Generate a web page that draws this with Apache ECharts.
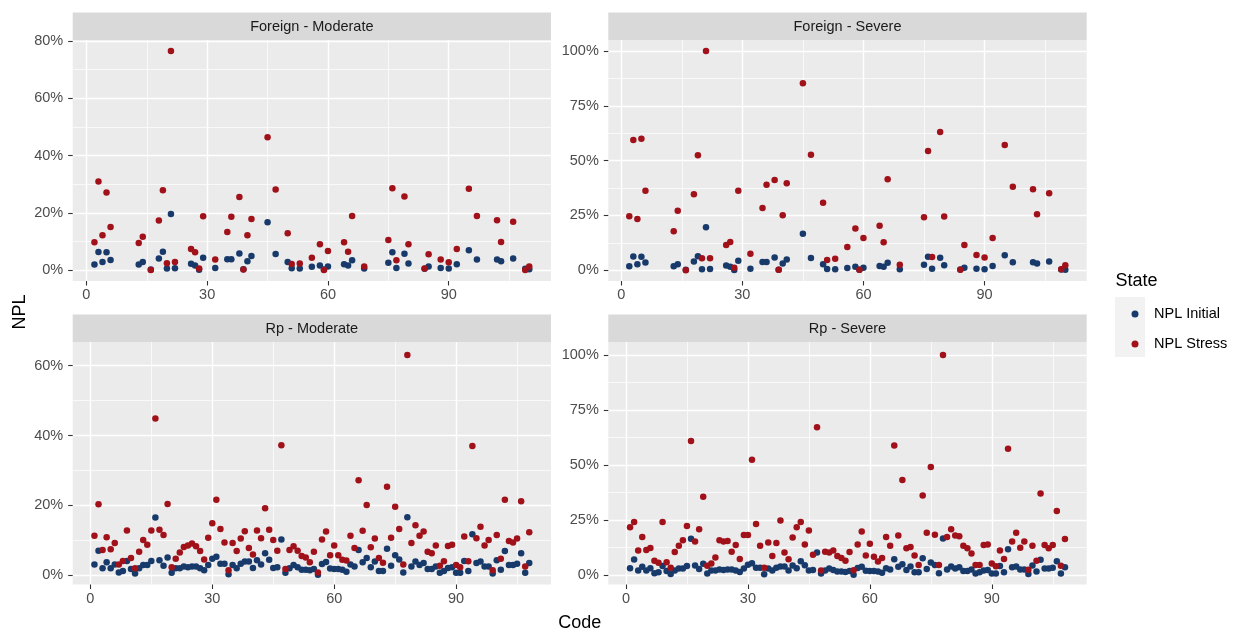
<!DOCTYPE html>
<html><head><meta charset="utf-8">
<script src="https://cdn.jsdelivr.net/npm/echarts@6/dist/echarts.min.js"></script>
<style>html,body{margin:0;padding:0;background:#fff}#c{width:1246px;height:632px}</style>
</head><body><div id="c"></div>
<script>
// ---------- DATA ----------
const foreignCodes = [2,3,4,5,6,13,14,16,18,19,20,21,22,26,27,28,29,32,35,36,38,39,40,41,45,47,50,51,53,56,58,59,60,64,65,66,69,75,76,77,79,80,84,85,88,90,92,95,97,102,103,106,109,110];
const foreignInitial = [1.9,6.3,2.8,6.2,3.5, 1.9,2.8,0.2,4.0,6.4,0.5,19.6,0.6, 2.2,1.6,0.1,4.3,0.7,3.8,3.8,5.8,0.3,3.1,4.9,16.7,5.6, 2.8,0.6,0.5,1.1,1.6,0.2,1.2, 2.0,1.6,3.4,0.5,2.5,6.2,0.7,5.7,2.3, 0.4,1.2,0.7,0.5,2.0,6.9,3.7, 3.7,3.1,4.0,0.4,0.3];
const foreignModerateStress = [9.7,30.9,12.1,27.1,15.0, 9.4,11.6,0.0,17.3,27.9,2.4,76.5,2.8, 7.3,6.2,0.5,18.8,3.7,13.3,18.6,25.5,0.2,12.1,17.8,46.4,28.1, 12.8,2.1,2.3,4.3,9.0,0.0,6.6, 9.7,6.4,18.9,1.2,10.5,28.6,3.4,25.7,9.0, 0.5,5.5,3.7,2.7,7.3,28.4,18.9, 17.4,9.8,16.9,0.0,1.2];
const foreignSevereStress = [24.6,59.4,23.4,60.0,36.3, 17.8,27.2,0.0,34.7,52.4,5.5,100.0,5.5, 11.5,12.9,1.2,36.3,7.6,28.4,39.0,41.2,0.2,25.1,39.7,85.3,52.7, 30.8,4.7,5.3,10.6,19.0,0.2,14.7, 20.3,12.8,41.5,2.5,24.2,54.4,6.1,63.1,24.5, 0.2,11.5,7.0,5.8,14.7,57.1,38.1, 36.9,25.5,35.1,0.5,2.3];

const rpCodes = [1,2,3,4,5,6,7,8,9,10,11,12,13,14,15,16,17,18,19,20,21,22,23,24,25,26,27,28,29,30,31,32,33,34,35,36,37,38,39,40,41,42,43,44,45,46,47,48,49,50,51,52,53,54,55,56,57,58,59,60,61,62,63,64,65,66,67,68,69,70,71,72,73,74,75,76,77,78,79,80,81,82,83,84,85,86,87,88,89,90,91,92,93,94,95,96,97,98,99,100,101,102,103,104,105,106,107,108];
const rpInitial = [3.1,7.0,2.0,3.7,2.0,3.1,0.8,1.2,4.1,1.8,
  0.5,2.0,2.9,2.9,4.1,16.5,4.3,2.7,5.1,0.7,
  2.0,2.0,2.5,2.3,2.5,2.5,2.0,1.4,2.9,4.7,
  5.3,3.3,3.3,0.3,2.9,2.0,3.3,3.9,3.9,2.1,
  4.3,3.1,6.3,4.4,2.1,2.3,10.2,0.7,2.0,2.9,
  2.3,1.6,1.6,1.4,1.8,0.1,3.2,3.8,1.9,1.8,
  1.8,1.6,1.0,3.1,2.5,7.2,3.7,4.9,2.3,3.9,
  1.2,1.2,7.6,2.7,5.7,4.5,0.8,16.6,2.5,3.9,
  2.9,3.5,1.8,1.8,2.5,0.7,1.2,2.1,2.3,0.7,
  0.7,4.1,1.2,11.7,3.5,3.9,2.5,2.5,0.5,4.3,
  1.6,6.9,2.9,2.9,3.3,6.3,0.7,3.5];
const rpModerateStress = [11.3,20.3,7.2,10.9,7.4,9.2,3.1,4.1,12.8,4.9,
  2.0,6.7,10.1,8.7,12.8,44.9,13.0,11.5,20.4,2.3,
  4.7,6.5,8.1,8.5,9.1,8.3,6.9,4.5,10.7,14.9,
  21.6,13.2,9.4,1.4,9.2,6.9,10.5,12.6,7.8,5.9,
  12.8,10.6,19.2,13.0,10.1,7.0,37.2,1.8,7.2,8.3,
  7.0,5.5,5.1,3.7,6.7,0.8,10.2,12.5,5.7,8.5,
  5.7,4.4,4.2,11.3,7.8,27.2,12.7,20.1,8.0,10.5,
  4.9,3.6,25.3,10.7,19.6,13.2,3.1,63.1,9.2,14.3,
  11.3,12.5,6.7,6.3,8.5,2.7,4.0,8.4,8.7,2.9,
  2.3,11.1,4.0,37.0,10.6,13.9,8.5,10.1,1.4,11.5,
  4.7,21.6,9.8,9.4,10.5,21.2,2.5,12.3];
const rpSevereStress = [21.7,24.1,11.1,17.3,11.4,12.3,6.5,5.6,24.1,5.8,
  3.3,10.5,13.3,15.8,22.3,60.9,15.2,20.8,35.6,4.2,
  5.2,8.0,15.8,15.2,15.5,10.6,13.6,7.3,18.2,18.2,
  52.4,23.2,13.3,3.3,14.8,8.6,14.5,24.8,10.2,7.2,
  17.0,21.7,24.1,13.9,20.2,9.2,67.1,2.1,10.6,10.2,
  11.1,8.6,7.7,6.5,10.5,2.2,13.9,19.8,8.9,14.2,
  8.3,6.1,7.7,17.3,13.3,58.9,17.9,43.2,12.1,12.7,
  8.9,4.5,36.1,19.2,49.1,18.3,4.5,100.0,17.3,20.8,
  17.9,17.6,13.3,12.1,9.8,4.5,4.5,13.6,13.9,5.2,
  4.0,11.1,7.3,57.4,15.2,19.2,12.4,15.2,2.4,13.3,
  6.5,37.0,13.6,12.1,13.6,29.1,4.2,16.4];

const xTickValues = [0,30,60,90];
const xMinorValues = [15,45,75,105];
const yTicksModerateForeign = [0,20,40,60,80];
const yMinorModerateForeign = [10,30,50,70];
const yTicksModerateRp = [0,20,40,60];
const yMinorModerateRp = [10,30,50];
const yTicksSevere = [0,25,50,75,100];
const yMinorSevere = [12.5,37.5,62.5,87.5];

const seriesNames = ['NPL Initial','NPL Stress'];
const panelTitles = ['Foreign - Moderate','Foreign - Severe','Rp - Moderate','Rp - Severe'];

// ---------- LAYOUT / STYLE ----------
const FONT = 'Liberation Sans, Arial, Helvetica, sans-serif';
const BLUE = '#173A6B';
const RED = '#A0111A';
const panels = [
  {title:panelTitles[0], codes:foreignCodes, init:foreignInitial, stress:foreignModerateStress,
   left:72.7, top:40, width:478.3, height:241, xMin:-3.4, xMax:115.4, yMin:-3.84, yMax:80.35, yMajor:yTicksModerateForeign, yMinor:yMinorModerateForeign},
  {title:panelTitles[1], codes:foreignCodes, init:foreignInitial, stress:foreignSevereStress,
   left:608.3, top:40, width:478.4, height:241, xMin:-3.2, xMax:115.3, yMin:-4.88, yMax:105.0, yMajor:yTicksSevere, yMinor:yMinorSevere},
  {title:panelTitles[2], codes:rpCodes, init:rpInitial, stress:rpModerateStress,
   left:72.7, top:342, width:478.3, height:242.5, xMin:-4.35, xMax:113.35, yMin:-2.66, yMax:66.79, yMajor:yTicksModerateRp, yMinor:yMinorModerateRp},
  {title:panelTitles[3], codes:rpCodes, init:rpInitial, stress:rpSevereStress,
   left:608.3, top:342, width:478.4, height:242.5, xMin:-4.35, xMax:113.35, yMin:-4.32, yMax:105.9, yMajor:yTicksSevere, yMinor:yMinorSevere}
];
const STRIP_H = 27.5;

const grids = [], xAxes = [], yAxes = [], series = [], graphics = [];
const tickStyle = {color:'#333333', width:1.1};
panels.forEach((p,i) => {
  grids.push({left:p.left, top:p.top, width:p.width, height:p.height, show:true, backgroundColor:'#EBEBEB', borderWidth:0});
  xAxes[i] = {gridIndex:i, type:'value', min:p.xMin, max:p.xMax, position:'bottom',
    axisLine:{show:false, onZero:false},
    axisTick:{show:true, length:4.5, lineStyle:tickStyle, customValues:xTickValues},
    axisLabel:{customValues:xTickValues, color:'#4D4D4D', fontSize:14.5, fontFamily:FONT, margin:6.5},
    splitLine:{show:true, lineStyle:{color:'#FFFFFF', width:1.4}}};
  yAxes[i] = {gridIndex:i, type:'value', min:p.yMin, max:p.yMax, position:'left',
    axisLine:{show:false, onZero:false},
    axisTick:{show:true, length:4.5, lineStyle:tickStyle, customValues:p.yMajor},
    axisLabel:{customValues:p.yMajor, color:'#4D4D4D', fontSize:14.5, fontFamily:FONT, margin:9.5, formatter:v => v + '%'},
    splitLine:{show:true, lineStyle:{color:'#FFFFFF', width:1.4}}};
  xAxes[i+4] = {gridIndex:i, type:'value', min:p.xMin, max:p.xMax, position:'bottom',
    axisLine:{show:false, onZero:false}, axisTick:{show:false, customValues:xMinorValues},
    axisLabel:{show:false}, splitLine:{show:true, lineStyle:{color:'#FFFFFF', width:0.7}}};
  yAxes[i+4] = {gridIndex:i, type:'value', min:p.yMin, max:p.yMax, position:'left',
    axisLine:{show:false, onZero:false}, axisTick:{show:false, customValues:p.yMinor},
    axisLabel:{show:false}, splitLine:{show:true, lineStyle:{color:'#FFFFFF', width:0.7}}};
  series.push({type:'scatter', name:seriesNames[0], xAxisIndex:i, yAxisIndex:i,
    data:p.codes.map((c,k) => [c, p.init[k]]), symbol:'circle', symbolSize:6.5,
    itemStyle:{color:BLUE, opacity:1}, z:3, emphasis:{disabled:true}});
  series.push({type:'scatter', name:seriesNames[1], xAxisIndex:i, yAxisIndex:i,
    data:p.codes.map((c,k) => [c, p.stress[k]]), symbol:'circle', symbolSize:6.5,
    itemStyle:{color:RED, opacity:1}, z:4, emphasis:{disabled:true}});
  graphics.push({type:'rect', shape:{x:p.left, y:p.top - STRIP_H, width:p.width, height:STRIP_H}, style:{fill:'#D9D9D9'}, silent:true});
  graphics.push({type:'text', x:p.left + p.width/2, y:p.top - STRIP_H/2 + 0.5, silent:true,
    style:{text:p.title, fill:'#1A1A1A', font:'14.5px ' + FONT, align:'center', verticalAlign:'middle'}});
});
graphics.push({type:'text', x:579.7, y:623, silent:true,
  style:{text:'Code', fill:'#000', font:'18px ' + FONT, align:'center', verticalAlign:'middle'}});
graphics.push({type:'text', x:20, y:312, rotation:Math.PI/2, silent:true,
  style:{text:'NPL', fill:'#000', font:'18px ' + FONT, align:'center', verticalAlign:'middle'}});
graphics.push({type:'text', x:1115.5, y:281, silent:true,
  style:{text:'State', fill:'#000', font:'18px ' + FONT, align:'left', verticalAlign:'middle'}});
graphics.push({type:'rect', shape:{x:1115, y:297, width:30, height:60}, style:{fill:'#F2F2F2'}, silent:true, z:0});

const chart = echarts.init(document.getElementById('c'), null, {renderer:'canvas'});
chart.setOption({
  animation:false,
  backgroundColor:'#FFFFFF',
  textStyle:{fontFamily:FONT},
  grid:grids,
  xAxis:xAxes,
  yAxis:yAxes,
  legend:{data:seriesNames, orient:'vertical', left:1126.5, top:301, itemWidth:7, itemHeight:7, itemGap:14,
    icon:'circle', selectedMode:false,
    textStyle:{fontSize:14.5, color:'#000', fontFamily:FONT, padding:[0,0,0,10.5], lineHeight:16}},
  graphic:graphics,
  series:series
});
</script>
</body></html>
